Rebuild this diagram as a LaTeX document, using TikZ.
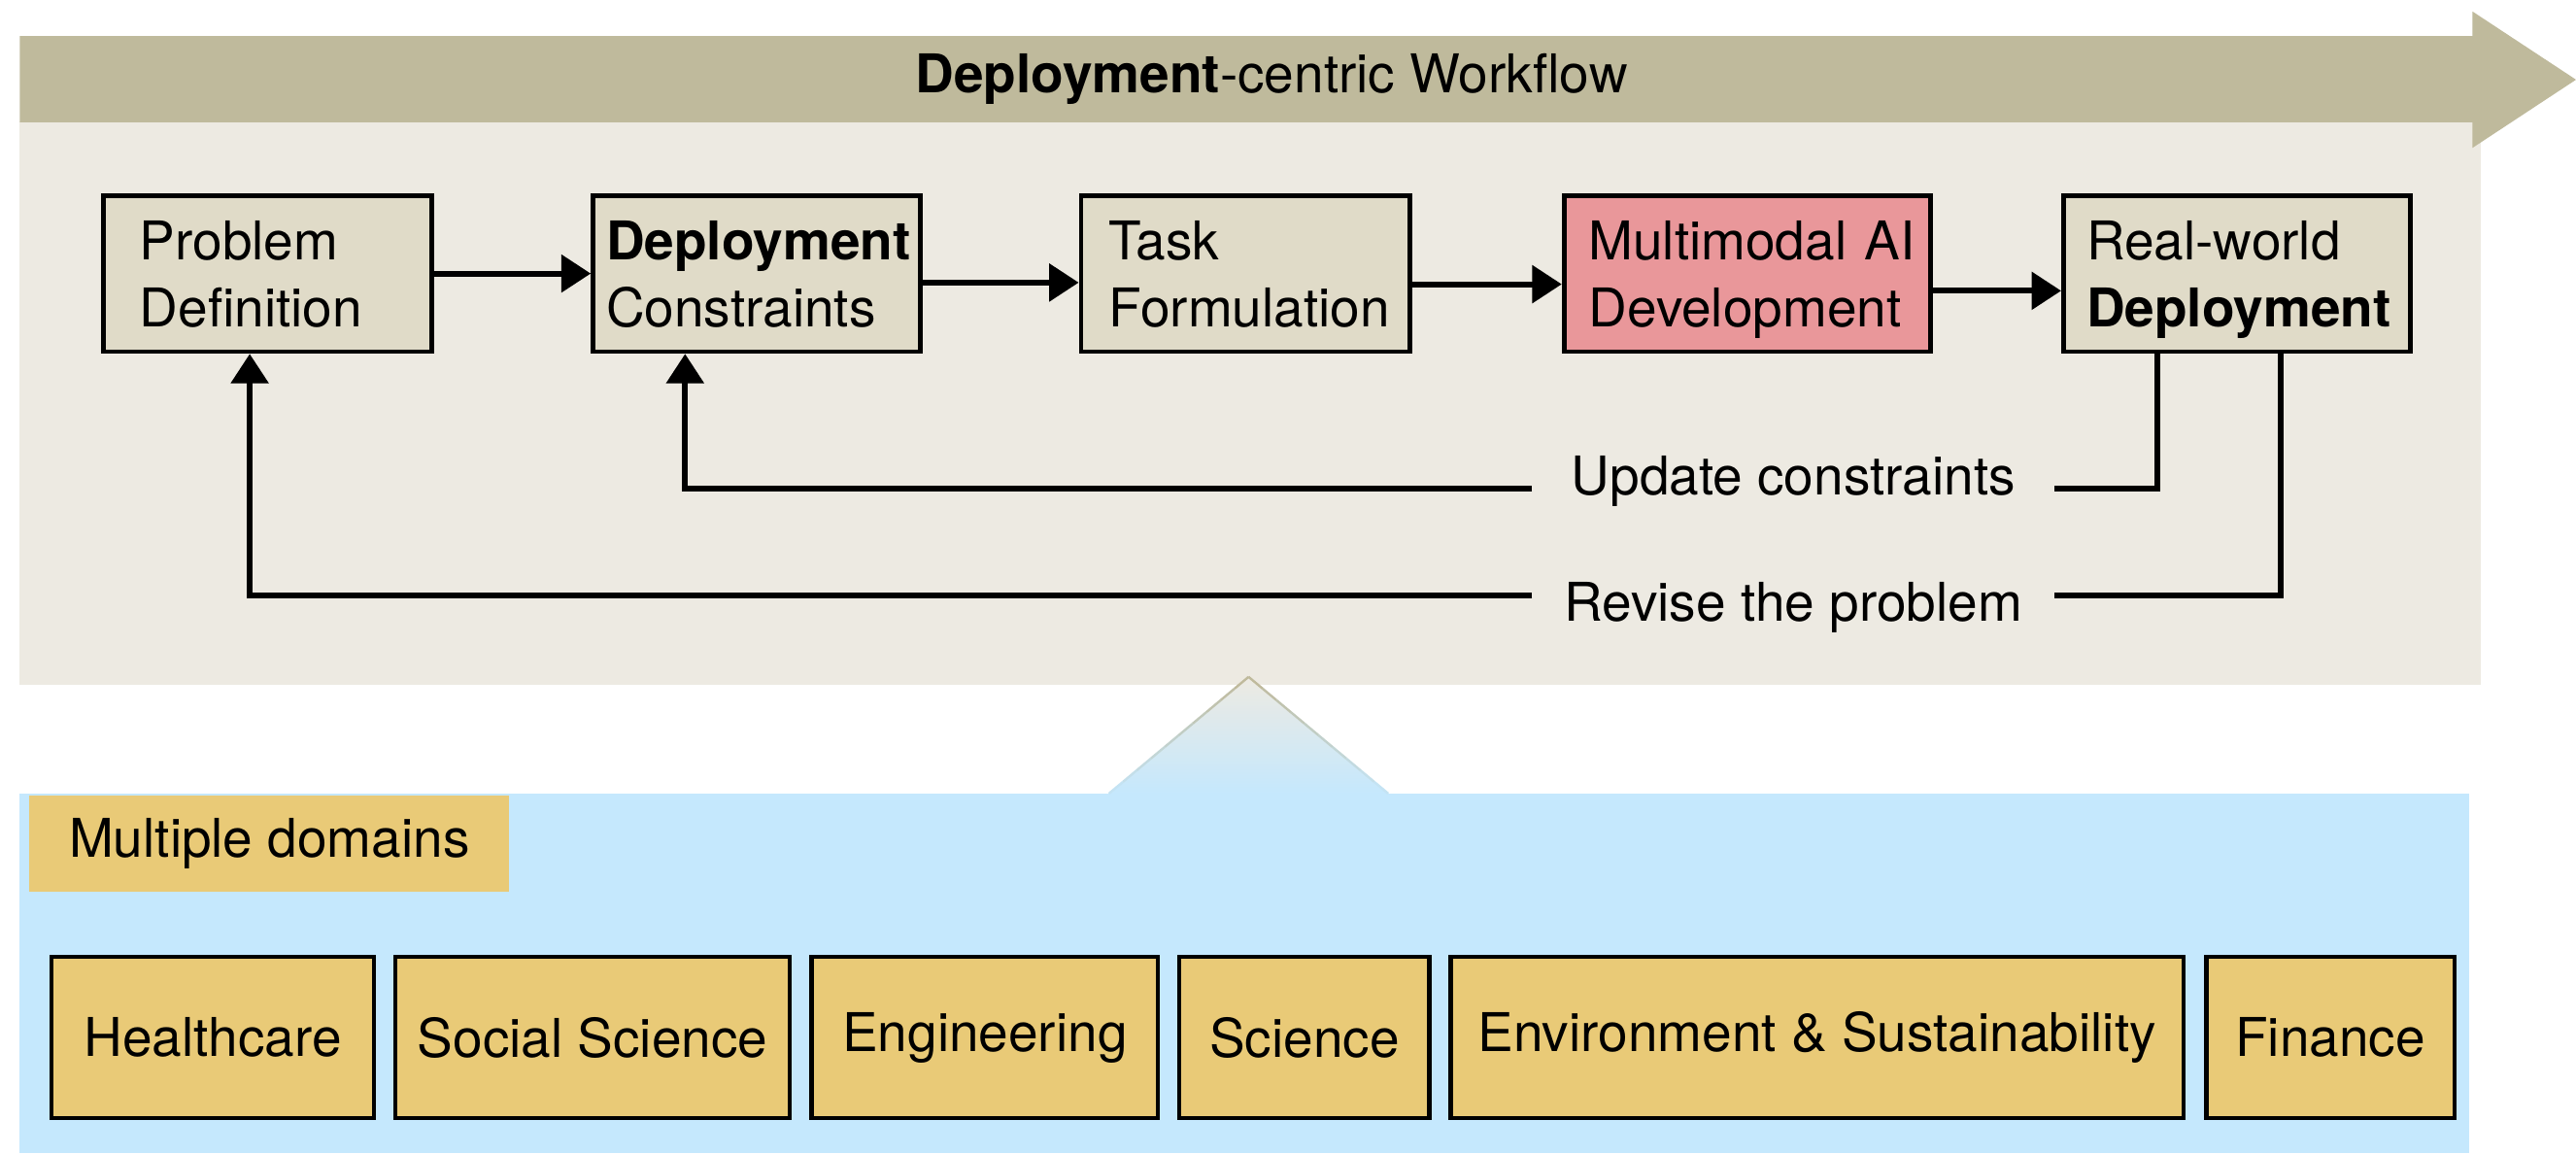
\documentclass[tikz,border=0pt]{standalone}
\usepackage{fontspec}
\setmainfont{TeX Gyre Heros}
\usetikzlibrary{arrows.meta}

\definecolor{bandcol}{HTML}{BFBA9C}
\definecolor{panelcol}{HTML}{EDEAE2}
\definecolor{stagefill}{HTML}{E0DBC8}
\definecolor{devfill}{HTML}{E9979A}
\definecolor{bluecol}{HTML}{C5E8FD}
\definecolor{domfill}{HTML}{E9CA77}

\tikzset{
  txt/.style={font=\fontsize{18.5}{23.3}\selectfont},
  stage/.style={txt, draw, line width=1.6pt, fill=stagefill, minimum height=1.9cm, align=left, text depth=23.3pt},
  fieldbox/.style={txt, draw, line width=1.4pt, fill=domfill, minimum height=1.96cm},
  feed/.style={line width=2pt},
  link/.style={feed, -{Triangle[length=0.36cm,width=0.45cm]}},
  note/.style={txt, minimum width=6.34cm, inner xsep=0pt}
}

\begin{document}
\begin{tikzpicture}[x=0.02cm, y=-0.02cm]
    \useasboundingbox (0,0) rectangle (1568,702);

    % Background panels
    \fill[panelcol] (12,74) rectangle (1510,417);
    \fill[bluecol] (12,483) rectangle (1503,702);

    % Workflow arrow band
    \fill[bandcol] (12,22) -- (1505,22) -- (1505,7) -- (1568,48.5) -- (1505,90) -- (1505,74.5) -- (12,74.5) -- cycle;
    \node[txt] (title) at (774,48) {\textbf{Deployment}-centric Workflow};

    % Stages
    \node[stage, text width=3.12cm, inner xsep=0.44cm] (pd) at (163,166.5) {Problem\\Definition};
    \node[stage, text width=3.66cm, inner xsep=0.16cm] (dc) at (460.5,166.5) {\textbf{Deployment}\\Constraints};
    \node[stage, text width=3.32cm, inner xsep=0.34cm] (tf) at (758,166.5) {Task\\Formulation};
    \node[stage, fill=devfill, text width=3.86cm, inner xsep=0.3cm] (mm) at (1063.5,166.5) {Multimodal~AI\\Development};
    \node[stage, text width=3.66cm, inner xsep=0.28cm] (rw) at (1361.5,166.5) {Real-world\\\textbf{Deployment}};

    % Forward arrows
    \draw[link] (pd.east) -- (dc.west);
    \draw[link] ([yshift=-0.11cm]dc.east) -- ([yshift=-0.11cm]tf.west);
    \draw[link] ([yshift=-0.13cm]tf.east) -- ([yshift=-0.13cm]mm.west);
    \draw[link] ([yshift=-0.21cm]mm.east) -- ([yshift=-0.21cm]rw.west);

    % Feedback loops
    \node[note] (upd) at (1091.5,293) {Update constraints};
    \node[note] (rev) at (1091.5,370) {Revise the problem};
    \draw[feed] ([xshift=-0.97cm]rw.south) |- ([yshift=-0.09cm]upd.east);
    \draw[link] ([yshift=-0.09cm]upd.west) -| ([xshift=-0.87cm]dc.south);
    \draw[feed] ([xshift=0.53cm]rw.south) |- ([yshift=0.15cm]rev.east);
    \draw[link] ([yshift=0.15cm]rev.west) -| ([xshift=-0.22cm]pd.south);

    % Connector to the domains
    \fill[top color=panelcol, bottom color=bluecol] (760,412) -- (675,483) -- (845,483) -- cycle;
    \foreach \i in {0,...,9}{
        \pgfmathtruncatemacro\mix{100-10*\i}
        \draw[bandcol!\mix!bluecol, line width=0.8pt] ({760-8.5*\i},{412+7.1*\i}) -- ({760-8.5*(\i+1)},{412+7.1*(\i+1)});
        \draw[bandcol!\mix!bluecol, line width=0.8pt] ({760+8.5*\i},{412+7.1*\i}) -- ({760+8.5*(\i+1)},{412+7.1*(\i+1)});
    }

    % Domains
    \node[txt, fill=domfill, minimum width=5.84cm, minimum height=1.18cm] (md) at (164,513.5) {Multiple domains};
    \node[fieldbox, minimum width=3.92cm] (hc) at (129.5,631.5) {Healthcare};
    \node[fieldbox, minimum width=4.8cm] (ss) at (360.7,631.5) {Social Science};
    \node[fieldbox, minimum width=4.22cm] (en) at (599.5,631.5) {Engineering};
    \node[fieldbox, minimum width=3.04cm] (sc) at (794,631.5) {Science};
    \node[fieldbox, minimum width=8.92cm] (es) at (1106,631.5) {Environment \& Sustainability};
    \node[fieldbox, minimum width=3.02cm] (fi) at (1418.5,631.5) {Finance};
\end{tikzpicture}
\end{document}
